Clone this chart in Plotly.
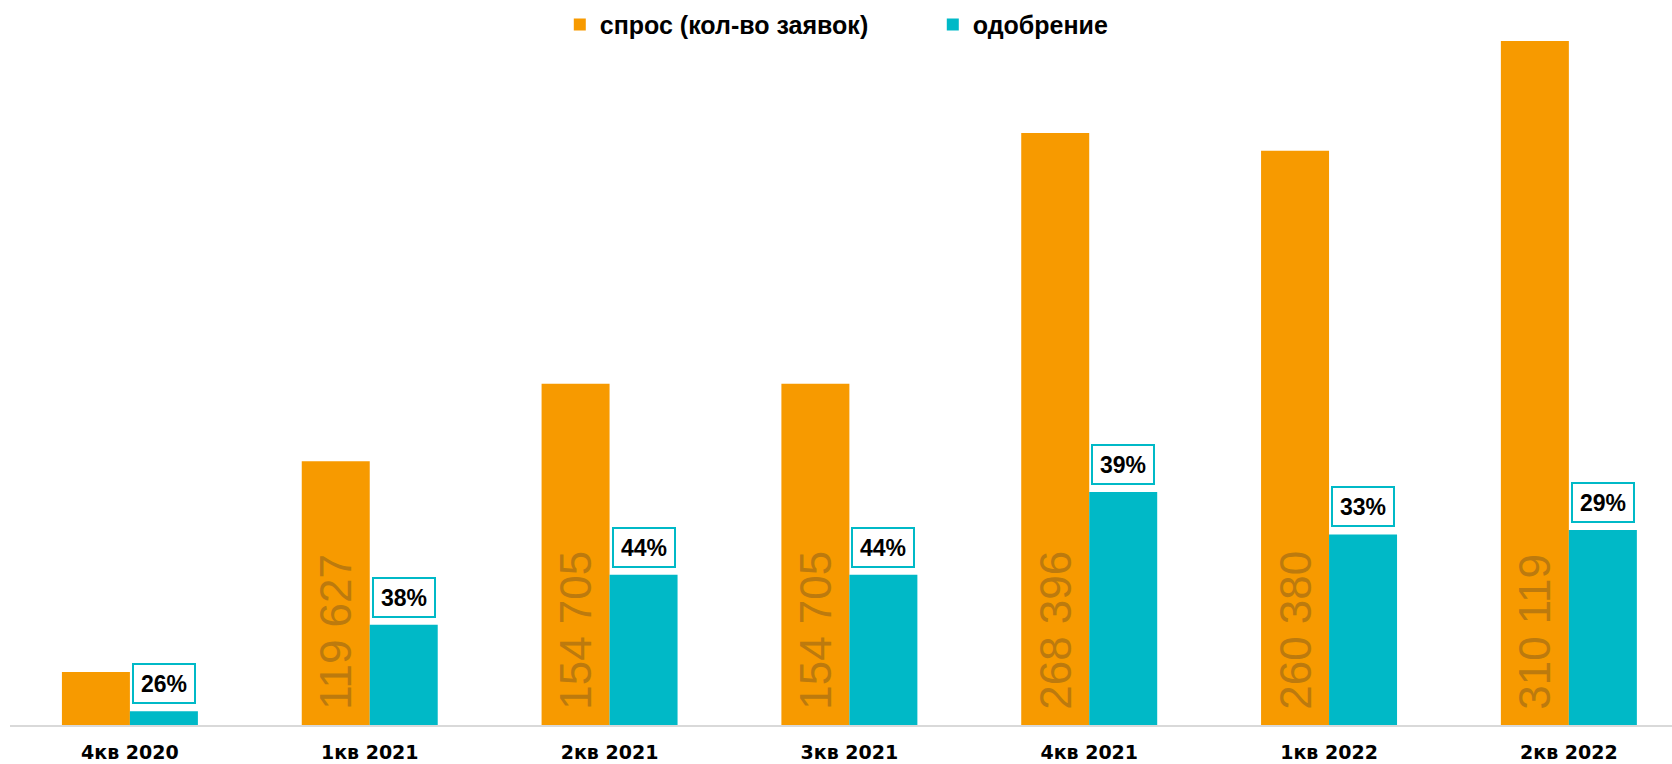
import plotly.graph_objects as go

categories = ["4кв 2020", "1кв 2021", "2кв 2021", "3кв 2021", "4кв 2021", "1кв 2022", "2кв 2022"]
demand = [24000, 119627, 154705, 154705, 268396, 260380, 310119]
approved = [6200, 45500, 68100, 68100, 105600, 86400, 88450]
approval_labels = ["26%", "38%", "44%", "44%", "39%", "33%", "29%"]
demand_labels = ["", "119 627", "154 705", "154 705", "268 396", "260 380", "310 119"]

ORANGE = "#F79A00"
TEAL = "#00B9C7"
DARK_ORANGE = "#BC7A0E"

fig = go.Figure()
fig.add_trace(go.Bar(
    x=categories, y=demand, name="спрос (кол-во заявок)",
    marker=dict(color=ORANGE, line=dict(width=0)),
    text=["\u00a0" + t if t else "" for t in demand_labels],
    textposition="inside", insidetextanchor="start", textangle=-90,
    textfont=dict(family="Liberation Sans, Arial, sans-serif", size=44, color=DARK_ORANGE),
))
fig.add_trace(go.Bar(
    x=categories, y=approved, name="одобрение",
    marker=dict(color=TEAL, line=dict(width=0)),
))

for c, v, lab in zip(categories, approved, approval_labels):
    fig.add_annotation(
        x=c, y=v, text=lab, showarrow=False,
        xshift=34, yshift=7, yanchor="bottom", xanchor="center",
        font=dict(family="Liberation Sans, Arial, sans-serif", size=23, color="#000000", weight="bold"),
        bgcolor="#FFFFFF", bordercolor=TEAL, borderwidth=2, borderpad=1,
        width=58, height=35,
    )

fig.update_layout(
    width=1672, height=764,
    margin=dict(l=10, r=0, t=0, b=39, autoexpand=False),
    paper_bgcolor="#FFFFFF", plot_bgcolor="#FFFFFF",
    barmode="group", bargap=0.433, bargroupgap=0,
    showlegend=True,
    legend=dict(
        orientation="h", x=0.3308, xanchor="left", y=0.966, yanchor="middle",
        font=dict(family="Liberation Sans, Arial, sans-serif", size=25, color="#000000", weight="bold"),
        itemwidth=30, entrywidth=328, bgcolor="rgba(0,0,0,0)",
    ),
    xaxis=dict(
        range=[-0.5, 6.43], showline=True, linecolor="#D9D9D9", linewidth=2,
        showgrid=False, ticks="", ticklabelstandoff=9, automargin=False,
        tickfont=dict(family="DejaVu Sans, sans-serif", size=19, color="#000000", weight="bold"),
    ),
    yaxis=dict(range=[0, 328700], visible=False, showgrid=False, zeroline=False, automargin=False),
)

fig.write_html("out.html", config={"displayModeBar": False},
               post_script="document.body.style.margin='0';document.body.style.overflow='hidden';")
